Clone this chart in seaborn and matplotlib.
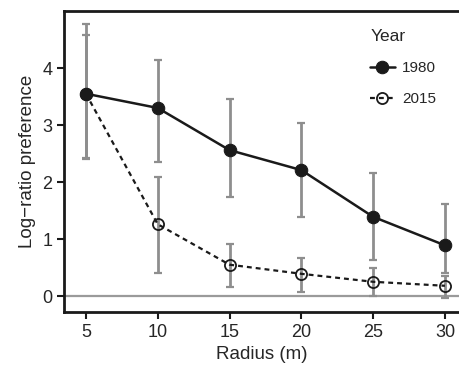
import matplotlib
matplotlib.use("Agg")
import matplotlib.pyplot as plt
import seaborn as sns
import pandas as pd

radius = [5, 10, 15, 20, 25, 30]

pref_1980 = [3.55, 3.30, 2.56, 2.21, 1.39, 0.89]
low_1980 = [2.40, 2.35, 1.74, 1.39, 0.63, 0.40]
high_1980 = [4.77, 4.14, 3.46, 3.04, 2.16, 1.61]

pref_2015 = [3.55, 1.26, 0.55, 0.39, 0.25, 0.18]
low_2015 = [2.42, 0.40, 0.16, 0.07, 0.00, -0.04]
high_2015 = [4.58, 2.09, 0.91, 0.67, 0.49, 0.36]

x_ticks = [5, 10, 15, 20, 25, 30]
y_ticks = [0, 1, 2, 3, 4]

sns.set_style("ticks")
plt.rcParams["font.family"] = ["Liberation Sans", "DejaVu Sans"]

fig = plt.figure(figsize=(4.6, 3.69), dpi=100)
ax = fig.add_axes([0.139, 0.1545, 0.861, 0.8155])

ink = "#1a1a1a"
text_ink = "#262626"
bar_grey = "#8e8e8e"

ax.axhline(0, color="#9a9a9a", lw=1.6, zorder=1)

for pref, low, high in [(pref_1980, low_1980, high_1980), (pref_2015, low_2015, high_2015)]:
    err = [[p - l for p, l in zip(pref, low)], [h - p for p, h in zip(pref, high)]]
    ax.errorbar(radius, pref, yerr=err, fmt="none", ecolor=bar_grey,
                elinewidth=2.0, capsize=3, capthick=1.6, zorder=2)

df80 = pd.DataFrame({"Radius": radius, "Pref": pref_1980})
df15 = pd.DataFrame({"Radius": radius, "Pref": pref_2015})

sns.lineplot(data=df15, x="Radius", y="Pref", ax=ax, color=ink, lw=1.6,
             linestyle=(0, (2.2, 1.8)), marker="o", markersize=8,
             markerfacecolor="none", markeredgecolor=ink, markeredgewidth=1.3,
             label="2015", zorder=3)
sns.lineplot(data=df80, x="Radius", y="Pref", ax=ax, color=ink, lw=1.8,
             marker="o", markersize=9, markerfacecolor=ink,
             markeredgecolor=ink, label="1980", zorder=4)

handles, labels = ax.get_legend_handles_labels()
order = [labels.index("1980"), labels.index("2015")]
leg = ax.legend([handles[i] for i in order], [labels[i] for i in order],
                title="Year", loc="upper right", bbox_to_anchor=(0.975, 0.985),
                frameon=False, fontsize=11, title_fontsize=12.5,
                handlelength=1.6, handletextpad=0.5, labelspacing=1.1,
                alignment="left", labelcolor=text_ink)
leg.get_title().set_color(text_ink)

ax.set_xlim(3.47, 31.05)
ax.set_ylim(-0.28, 5.0)
ax.set_xticks(x_ticks)
ax.set_yticks(y_ticks)
ax.set_xlabel("Radius (m)", fontsize=13.5, color=text_ink)
ax.set_ylabel("Log\u2212ratio preference", fontsize=13.5, color=text_ink)
ax.tick_params(labelsize=13, colors=ink, labelcolor=text_ink, width=1.5, length=5)

for side in ["left", "bottom", "top"]:
    ax.spines[side].set_linewidth(2)
    ax.spines[side].set_color(ink)
ax.spines["right"].set_visible(False)

fig.savefig("out.png", dpi=100)
